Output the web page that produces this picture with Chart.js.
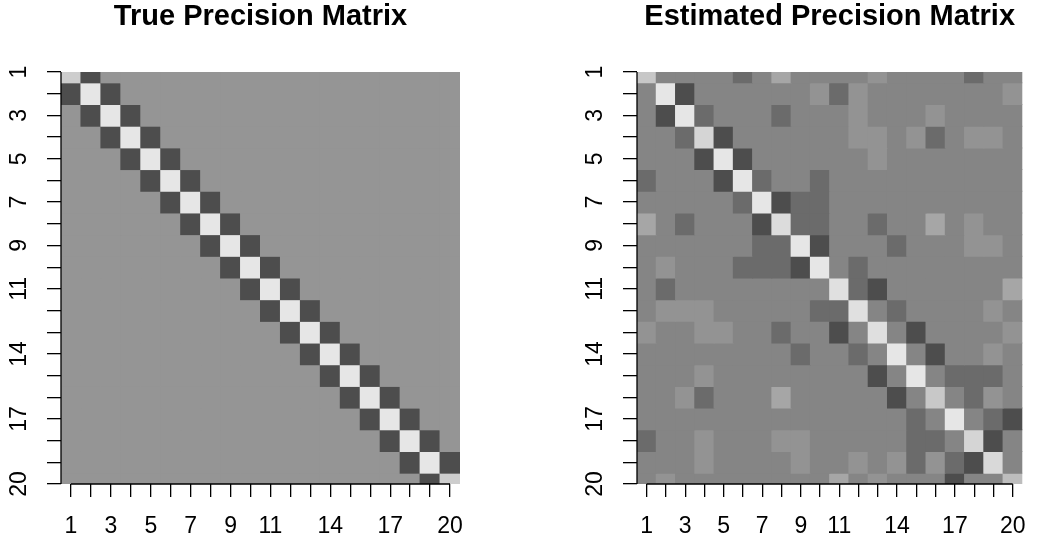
<!DOCTYPE html>
<html>
<head>
<meta charset="utf-8">
<script src="https://cdn.jsdelivr.net/npm/chart.js@4.4.1/dist/chart.umd.min.js"></script>
<style>
  html, body { margin: 0; padding: 0; background: #fff; }
  #wrap { position: relative; width: 1042px; height: 543px; }
  .panel { position: absolute; top: 0; width: 521px; height: 543px; }
</style>
</head>
<body>
<div id="wrap">
  <div class="panel" style="left:0"><canvas id="trueChart" width="521" height="543"></canvas></div>
  <div class="panel" style="left:521px"><canvas id="estChart" width="521" height="543"></canvas></div>
</div>
<script>
// Data
const rowLabels = [1, 2, 3, 4, 5, 6, 7, 8, 9, 10, 11, 12, 13, 14, 15, 16, 17, 18, 19, 20];
const columnLabels = ['1', '2', '3', '4', '5', '6', '7', '8', '9', '10', '11', '12', '13', '14', '15', '16', '17', '18', '19', '20'];
const tickLabelsShown = [1, 3, 5, 7, 9, 11, 14, 17, 20];

// true precision matrix (tridiagonal)
const trueRows = [
  [1, -0.75, 0, 0, 0, 0, 0, 0, 0, 0, 0, 0, 0, 0, 0, 0, 0, 0, 0, 0],
  [-0.75, 1.56, -0.75, 0, 0, 0, 0, 0, 0, 0, 0, 0, 0, 0, 0, 0, 0, 0, 0, 0],
  [0, -0.75, 1.56, -0.75, 0, 0, 0, 0, 0, 0, 0, 0, 0, 0, 0, 0, 0, 0, 0, 0],
  [0, 0, -0.75, 1.56, -0.75, 0, 0, 0, 0, 0, 0, 0, 0, 0, 0, 0, 0, 0, 0, 0],
  [0, 0, 0, -0.75, 1.56, -0.75, 0, 0, 0, 0, 0, 0, 0, 0, 0, 0, 0, 0, 0, 0],
  [0, 0, 0, 0, -0.75, 1.56, -0.75, 0, 0, 0, 0, 0, 0, 0, 0, 0, 0, 0, 0, 0],
  [0, 0, 0, 0, 0, -0.75, 1.56, -0.75, 0, 0, 0, 0, 0, 0, 0, 0, 0, 0, 0, 0],
  [0, 0, 0, 0, 0, 0, -0.75, 1.56, -0.75, 0, 0, 0, 0, 0, 0, 0, 0, 0, 0, 0],
  [0, 0, 0, 0, 0, 0, 0, -0.75, 1.56, -0.75, 0, 0, 0, 0, 0, 0, 0, 0, 0, 0],
  [0, 0, 0, 0, 0, 0, 0, 0, -0.75, 1.56, -0.75, 0, 0, 0, 0, 0, 0, 0, 0, 0],
  [0, 0, 0, 0, 0, 0, 0, 0, 0, -0.75, 1.56, -0.75, 0, 0, 0, 0, 0, 0, 0, 0],
  [0, 0, 0, 0, 0, 0, 0, 0, 0, 0, -0.75, 1.56, -0.75, 0, 0, 0, 0, 0, 0, 0],
  [0, 0, 0, 0, 0, 0, 0, 0, 0, 0, 0, -0.75, 1.56, -0.75, 0, 0, 0, 0, 0, 0],
  [0, 0, 0, 0, 0, 0, 0, 0, 0, 0, 0, 0, -0.75, 1.56, -0.75, 0, 0, 0, 0, 0],
  [0, 0, 0, 0, 0, 0, 0, 0, 0, 0, 0, 0, 0, -0.75, 1.56, -0.75, 0, 0, 0, 0],
  [0, 0, 0, 0, 0, 0, 0, 0, 0, 0, 0, 0, 0, 0, -0.75, 1.56, -0.75, 0, 0, 0],
  [0, 0, 0, 0, 0, 0, 0, 0, 0, 0, 0, 0, 0, 0, 0, -0.75, 1.56, -0.75, 0, 0],
  [0, 0, 0, 0, 0, 0, 0, 0, 0, 0, 0, 0, 0, 0, 0, 0, -0.75, 1.56, -0.75, 0],
  [0, 0, 0, 0, 0, 0, 0, 0, 0, 0, 0, 0, 0, 0, 0, 0, 0, -0.75, 1.56, -0.75],
  [0, 0, 0, 0, 0, 0, 0, 0, 0, 0, 0, 0, 0, 0, 0, 0, 0, 0, -0.75, 1]
];

// estimated precision matrix
const estRows = [
  [1.25, 0, 0, 0, 0, -0.34, 0, 0.55, 0, 0, 0, 0, 0.22, 0, 0, 0, 0, -0.34, 0, 0],
  [0, 2.04, -0.62, 0, 0, 0, 0, 0, 0, 0.22, -0.34, 0.22, 0, 0, 0, 0, 0, 0, 0, 0.22],
  [0, -0.62, 2.04, -0.34, 0, 0, 0, -0.34, 0, 0, 0, 0.22, 0, 0, 0, 0.22, 0, 0, 0, 0],
  [0, 0, -0.34, 1.6, -0.62, 0, 0, 0, 0, 0, 0, 0.22, 0.22, 0, 0.22, -0.34, 0, 0.22, 0.22, 0],
  [0, 0, 0, -0.62, 2.04, -0.62, 0, 0, 0, 0, 0, 0, 0.22, 0, 0, 0, 0, 0, 0, 0],
  [-0.34, 0, 0, 0, -0.62, 2.04, -0.34, 0, 0, -0.34, 0, 0, 0, 0, 0, 0, 0, 0, 0, 0],
  [0, 0, 0, 0, 0, -0.34, 2.04, -0.62, -0.34, -0.34, 0, 0, 0, 0, 0, 0, 0, 0, 0, 0],
  [0.55, 0, -0.34, 0, 0, 0, -0.62, 1.78, -0.34, -0.34, 0, 0, -0.34, 0, 0, 0.55, 0, 0.22, 0, 0],
  [0, 0, 0, 0, 0, 0, -0.34, -0.34, 2.04, -0.62, 0, 0, 0, -0.34, 0, 0, 0, 0.22, 0.22, 0],
  [0, 0.22, 0, 0, 0, -0.34, -0.34, -0.34, -0.62, 2.04, 0, -0.34, 0, 0, 0, 0, 0, 0, 0, 0],
  [0, -0.34, 0, 0, 0, 0, 0, 0, 0, 0, 1.89, -0.34, -0.62, 0, 0, 0, 0, 0, 0, 0.55],
  [0, 0.22, 0.22, 0.22, 0, 0, 0, 0, 0, -0.34, -0.34, 1.89, 0, -0.34, 0, 0, 0, 0, 0.22, 0],
  [0.22, 0, 0, 0.22, 0.22, 0, 0, -0.34, 0, 0, -0.62, 0, 1.85, 0, -0.62, 0, 0, 0, 0, 0.22],
  [0, 0, 0, 0, 0, 0, 0, 0, -0.34, 0, 0, -0.34, 0, 2.04, 0, -0.62, 0, 0, 0.22, 0],
  [0, 0, 0, 0.22, 0, 0, 0, 0, 0, 0, 0, 0, -0.62, 0, 2.04, 0, -0.34, -0.34, -0.34, 0],
  [0, 0, 0.22, -0.34, 0, 0, 0, 0.55, 0, 0, 0, 0, 0, -0.62, 0, 1.28, 0, -0.34, 0.22, 0],
  [0, 0, 0, 0, 0, 0, 0, 0, 0, 0, 0, 0, 0, 0, -0.34, 0, 2.04, 0, -0.34, -0.62],
  [-0.34, 0, 0, 0.22, 0, 0, 0, 0.22, 0.22, 0, 0, 0, 0, 0, -0.34, -0.34, 0, 1.6, -0.62, 0],
  [0, 0, 0, 0.22, 0, 0, 0, 0, 0.22, 0, 0, 0.22, 0, 0.22, -0.34, 0.22, -0.34, -0.62, 1.7, 0],
  [0, 0.22, 0, 0, 0, 0, 0, 0, 0, 0, 0.55, 0, 0.22, 0, 0, 0, -0.62, 0, 0, 1.03]
];

const FONT = "'Liberation Sans', Arial, sans-serif";

// grey ramp like R's gray.colors(): 0.3 .. 0.9 with gamma 2.2
function grayFor(v, lo, hi) {
  const a = Math.pow(0.3, 2.2), b = Math.pow(0.9, 2.2);
  const t = (v - lo) / (hi - lo);
  const g = Math.round(255 * Math.pow(a + t * (b - a), 1 / 2.2));
  return `rgb(${g},${g},${g})`;
}

// R style axis lines: only from first to last tick
const rAxisLines = {
  id: 'rAxisLines',
  afterDraw(chart) {
    const { ctx, chartArea, scales: { x, y } } = chart;
    ctx.save();
    ctx.strokeStyle = '#000';
    ctx.lineWidth = 1.3;
    ctx.beginPath();
    ctx.moveTo(x.getPixelForValue(0), chartArea.bottom);
    ctx.lineTo(x.getPixelForValue(columnLabels.length - 1), chartArea.bottom);
    ctx.moveTo(chartArea.left, y.getPixelForValue(rowLabels[0]));
    ctx.lineTo(chartArea.left, y.getPixelForValue(rowLabels[rowLabels.length - 1]));
    ctx.stroke();
    ctx.restore();
  }
};

function makeMatrixChart(canvasId, title, rows, padLeft, padRight) {
  const flat = rows.flat();
  const lo = Math.min(...flat), hi = Math.max(...flat);
  const datasets = rows.map((row, i) => ({
    label: 'row ' + rowLabels[i],
    data: row.map(() => [rowLabels[i] - 0.5, rowLabels[i] + 0.5]),
    backgroundColor: row.map(v => grayFor(v, lo, hi)),
    borderWidth: 0,
    inflateAmount: 0.5, // hide anti-alias seams between cells
    grouped: false,
    barPercentage: 1,
    categoryPercentage: 1,
    clip: 0
  }));
  const axisGrid = { drawOnChartArea: false, drawTicks: true, color: '#000', lineWidth: 1.3, offset: false };
  return new Chart(document.getElementById(canvasId), {
    type: 'bar',
    data: { labels: columnLabels, datasets },
    options: {
      responsive: false,
      animation: false,
      events: [],
      layout: { padding: { left: padLeft, right: padRight, top: 0, bottom: 0 } },
      plugins: {
        legend: { display: false },
        tooltip: { enabled: false },
        title: {
          display: true, text: title, color: '#000', fullSize: false,
          font: { family: FONT, size: 29, weight: 'bold', lineHeight: 1.15 },
          padding: { top: 0, bottom: 38.65 }
        }
      },
      scales: {
        x: {
          type: 'category',
          offset: true,
          border: { display: false },
          grid: { ...axisGrid, tickLength: 13 },
          ticks: {
            autoSkip: false, maxRotation: 0, minRotation: 0, padding: 16, color: '#000',
            font: { family: FONT, size: 23 },
            callback: (v, i) => tickLabelsShown.includes(rowLabels[i]) ? columnLabels[i] : ''
          },
          afterFit: s => { s.height = 59; }
        },
        y: {
          type: 'linear',
          min: rowLabels[0],
          max: rowLabels[rowLabels.length - 1],
          reverse: true,
          border: { display: false },
          grid: { ...axisGrid, tickLength: 14 },
          afterBuildTicks: s => { s.ticks = rowLabels.map(v => ({ value: v })); },
          ticks: {
            autoSkip: false, minRotation: 90, maxRotation: 90, crossAlign: 'center', padding: 15, color: '#000',
            font: { family: FONT, size: 23 },
            callback: v => tickLabelsShown.includes(v) ? String(v) : ''
          },
          afterFit: s => { s.width = 61; }
        }
      }
    },
    plugins: [rAxisLines]
  });
}

makeMatrixChart('trueChart', 'True Precision Matrix', trueRows, 0, 61);
makeMatrixChart('estChart', 'Estimated Precision Matrix', estRows, 55, 6);
</script>
</body>
</html>
